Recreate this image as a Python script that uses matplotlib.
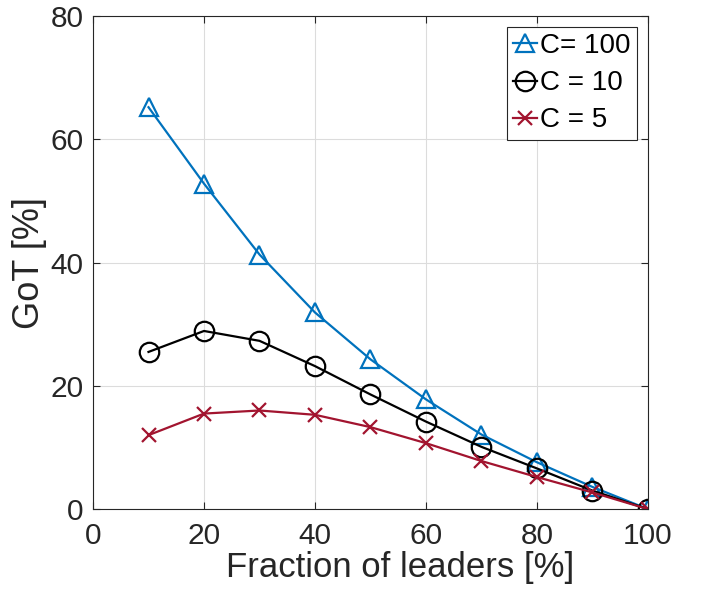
import matplotlib.pyplot as plt

plt.rcParams['font.family'] = ['Liberation Sans', 'DejaVu Sans']

# fraction of leaders [%]
frac = [10, 20, 30, 40, 50, 60, 70, 80, 90, 100]

# GoT [%] per C
got_c100 = [65.2, 52.8, 41.3, 31.9, 24.3, 17.8, 12.1, 7.6, 3.6, 0.0]
got_c10 = [25.5, 28.9, 27.3, 23.2, 18.6, 14.2, 10.1, 6.6, 3.0, 0.0]
got_c5 = [12.0, 15.5, 16.0, 15.3, 13.3, 10.7, 7.8, 5.2, 2.7, 0.0]

fig = plt.figure(figsize=(7.02, 5.92), dpi=100)
ax = fig.add_axes([0.1325, 0.140, 0.7905, 0.833])

ax.plot(frac, got_c100, color='#0072BD', lw=1.6, marker='^', ms=13,
        mfc='none', mew=1.6, label='C= 100')
ax.plot(frac, got_c10, color='black', lw=1.6, marker='o', ms=14,
        mfc='none', mew=1.6, label='C = 10')
ax.plot(frac, got_c5, color='#A2142F', lw=1.6, marker='x', ms=10,
        mew=1.6, label='C = 5')

ax.set_xlim(0, 100)
ax.set_ylim(0, 80)
ax.set_xticks(range(0, 101, 20))
ax.set_yticks(range(0, 81, 20))
ax.grid(True, color='#dcdcdc', lw=0.8)
ax.set_axisbelow(True)
ax.tick_params(direction='in', length=5, labelsize=21.5, colors='#262626',
               top=True, right=True, labeltop=False, labelright=False)
ax.tick_params(axis='y', pad=7)
ax.tick_params(axis='x', pad=9)
for s in ax.spines.values():
    s.set_color('#262626')
    s.set_linewidth(0.8)

ax.set_xlabel('Fraction of leaders [%]', fontsize=25, color='#262626')
ax.xaxis.set_label_coords(0.553, -0.085)
ax.set_ylabel('GoT [%]', fontsize=26, color='#262626', labelpad=2)

leg = ax.legend(loc='upper right', fontsize=20, handlelength=0.85,
                handletextpad=0.12, borderpad=0.22, labelspacing=0.4,
                fancybox=False, framealpha=1, edgecolor='#262626',
                borderaxespad=0.4)
leg.get_frame().set_linewidth(0.8)

fig.savefig('out.png', dpi=100)
